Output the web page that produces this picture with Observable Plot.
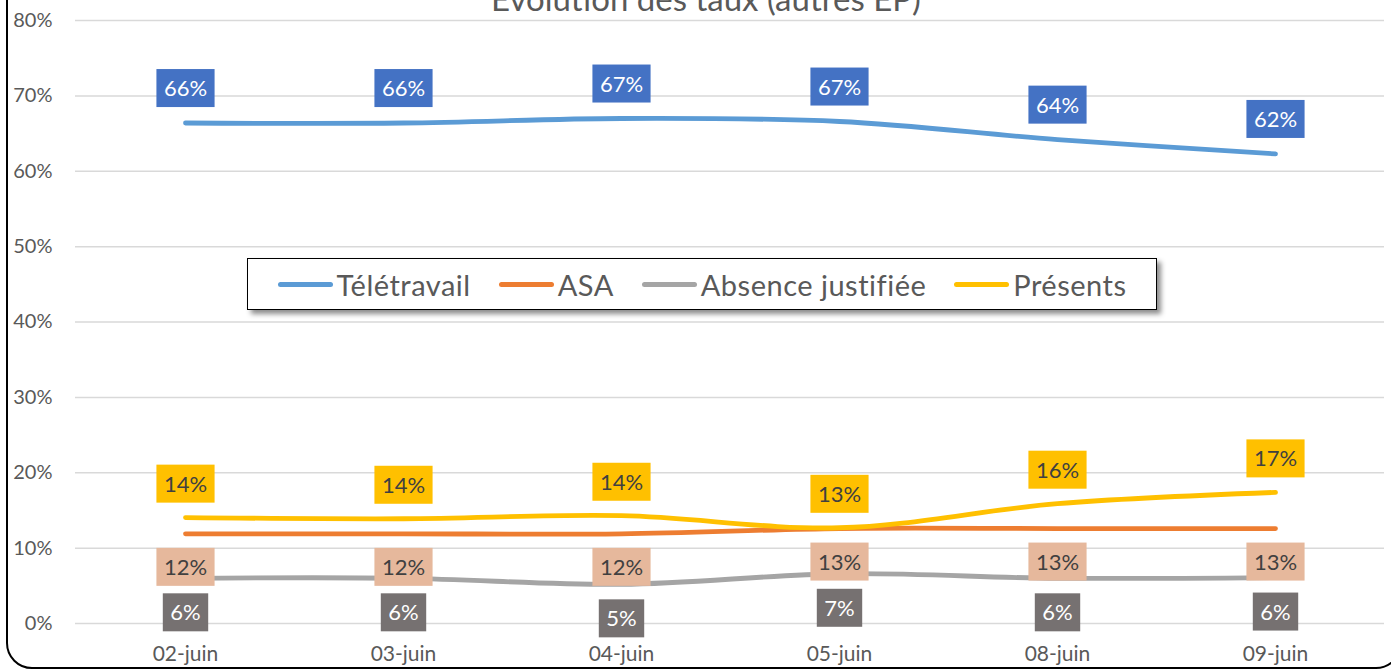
<!DOCTYPE html>
<html>
<head>
<meta charset="utf-8">
<script src="https://cdn.jsdelivr.net/npm/d3@7"></script>
<script src="https://cdn.jsdelivr.net/npm/@observablehq/plot@0.6"></script>
<style>
  html, body { margin: 0; padding: 0; background: #fff; }
  #wrap { position: relative; width: 1391px; height: 671px; overflow: hidden; font-family: Lato, "Noto Sans", sans-serif; background: #fff; }
  #frame { position: absolute; left: 6px; top: -30px; width: 1396px; height: 699px; box-sizing: border-box; border: 2px solid #000; border-radius: 26px; }
  #title { position: absolute; left: 0; width: 1412px; top: -18px; text-align: center; font-size: 33px; line-height: 33px; color: #595959; white-space: nowrap; }
  #chart { position: absolute; left: 0; top: 0; }
  #legend { position: absolute; left: 247px; top: 258px; width: 910px; height: 52px; box-sizing: border-box; border: 1.5px solid #000; background: #fff;
            box-shadow: 4px 4px 5px rgba(0,0,0,0.45); display: flex; align-items: center; justify-content: center; gap: 28px; }
  .item { display: flex; align-items: center; gap: 4px; font-size: 29px; letter-spacing: 0.5px; color: #595959; white-space: nowrap; }
  .sw { width: 55px; height: 5px; border-radius: 3px; }
</style>
</head>
<body>
<div id="wrap">
  <div id="frame"></div>
  <div id="title">Évolution des taux (autres EP)</div>
  <div id="chart"></div>
  <div id="legend"></div>
</div>
<script>
// ---- data ----
const dates = ["02-juin", "03-juin", "04-juin", "05-juin", "08-juin", "09-juin"];
const seriesNames = ["Télétravail", "ASA", "Absence justifiée", "Présents"];
const teletravail = [0.664, 0.664, 0.670, 0.666, 0.642, 0.623];
const asa = [0.119, 0.119, 0.119, 0.126, 0.126, 0.126];
const absence = [0.060, 0.060, 0.052, 0.066, 0.060, 0.061];
const presents = [0.1405, 0.139, 0.143, 0.127, 0.159, 0.174];
const yTicks = [0, 0.1, 0.2, 0.3, 0.4, 0.5, 0.6, 0.7, 0.8];

// ---- styles ----
const lineColors = ["#5B9BD5", "#ED7D31", "#A5A5A5", "#FFC000"];
const boxFills = ["#4472C4", "#E6B89C", "#767171", "#FFC000"];
const textFills = ["#FFFFFF", "#404040", "#FFFFFF", "#404040"];
const labelOffsets = [-34, 34, 35, -33];

const seriesValues = [teletravail, asa, absence, presents];
const rows = [];
seriesNames.forEach((s, si) => dates.forEach((d, di) => rows.push({series: s, si, date: d, value: seriesValues[si][di]})));
const fmt = d3.format(".0%");

const labelMarks = seriesNames.map((s, si) =>
  Plot.text(rows.filter(r => r.si === si), {
    x: "date", y: "value", text: r => fmt(r.value),
    dy: labelOffsets[si], fill: textFills[si], fontSize: 22, fontFamily: "Lato"
  })
);

const chart = Plot.plot({
  width: 1391, height: 671,
  marginTop: 20, marginBottom: 48, marginLeft: 75, marginRight: 7,
  style: {color: "#595959", fontFamily: "Lato, 'Noto Sans', sans-serif", fontSize: "20px", background: "transparent"},
  x: {type: "point", domain: dates, padding: 0.5, label: null},
  y: {domain: [0, 0.8], label: null},
  color: {domain: seriesNames, range: lineColors},
  marks: [
    Plot.gridY(yTicks, {stroke: "#d9d9d9", strokeOpacity: 1, strokeWidth: 1.5}),
    Plot.axisY({ticks: yTicks, tickFormat: d3.format(".0%"), tickSize: 0, tickPadding: 23, fontSize: 20, label: null}),
    Plot.axisX({tickSize: 0, tickPadding: 23, fontSize: 21, label: null}),
    Plot.line(rows, {x: "date", y: "value", z: "series", stroke: "series", strokeWidth: 4.8, curve: "catmull-rom", strokeLinecap: "round"}),
    ...labelMarks
  ]
});
document.getElementById("chart").appendChild(chart);

// label boxes behind each data label text
const groups = chart.querySelectorAll('g[aria-label="text"]');
groups.forEach((g, si) => {
  g.querySelectorAll("text").forEach(t => {
    const bb = t.getBBox();
    const padX = 7.5, h = 38;
    const cy = bb.y + bb.height / 2 + 0.5;
    const rect = document.createElementNS("http://www.w3.org/2000/svg", "rect");
    rect.setAttribute("x", bb.x - padX);
    rect.setAttribute("width", bb.width + 2 * padX);
    rect.setAttribute("y", cy - h / 2);
    rect.setAttribute("height", h);
    rect.setAttribute("fill", boxFills[si]);
    if (t.hasAttribute("transform")) rect.setAttribute("transform", t.getAttribute("transform"));
    t.parentNode.insertBefore(rect, t);
  });
});

// legend
const legend = document.getElementById("legend");
seriesNames.forEach((s, si) => {
  const it = document.createElement("div");
  it.className = "item";
  const sw = document.createElement("div");
  sw.className = "sw";
  sw.style.background = lineColors[si];
  const tx = document.createElement("span");
  tx.textContent = s;
  it.appendChild(sw); it.appendChild(tx);
  legend.appendChild(it);
});
</script>
</body>
</html>
